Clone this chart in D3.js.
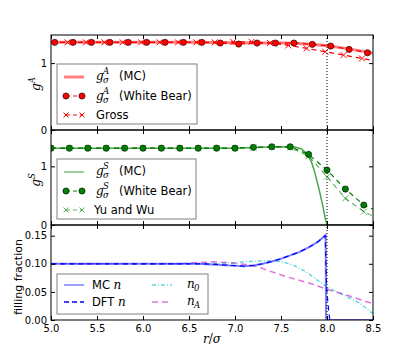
<!DOCTYPE html>
<html><head><meta charset="utf-8">
<script src="https://cdn.jsdelivr.net/npm/d3@7"></script>
<style>
body{margin:0;background:#fff}
text{font-family:"DejaVu Sans",sans-serif}
.m{font-family:"DejaVu Serif",serif;font-style:italic}
</style>
</head><body><div id="chart"></div>
<script>
// top panel: g^A
var aMcX = [5.0, 6.5, 7.0, 7.3, 7.6, 7.8, 8.0, 8.2, 8.4, 8.5];
var aMcY = [1.31, 1.31, 1.305, 1.30, 1.30, 1.285, 1.26, 1.22, 1.175, 1.145];
var aWbX = [5.04, 5.24, 5.44, 5.64, 5.84, 6.04, 6.24, 6.44, 6.64, 6.84, 7.04, 7.24, 7.44, 7.64, 7.84, 8.04, 8.24, 8.44];
var aWbY = [1.31, 1.31, 1.31, 1.31, 1.31, 1.31, 1.31, 1.31, 1.31, 1.30, 1.285, 1.30, 1.30, 1.30, 1.28, 1.255, 1.205, 1.155];
var aGrX = [5.18, 5.38, 5.58, 5.78, 5.98, 6.18, 6.38, 6.58, 6.78, 6.98, 7.18, 7.38, 7.58, 7.78, 7.98, 8.18, 8.38];
var aGrY = [1.31, 1.31, 1.31, 1.31, 1.31, 1.31, 1.31, 1.31, 1.31, 1.318, 1.318, 1.30, 1.265, 1.22, 1.17, 1.12, 1.07];

// middle panel: g^S
var sMcX = [5.0, 7.0, 7.3, 7.5, 7.65, 7.72, 7.78, 7.83, 7.87, 7.91, 7.95, 7.98, 8.0, 8.5];
var sMcY = [1.31, 1.31, 1.325, 1.335, 1.33, 1.30, 1.22, 1.08, 0.88, 0.63, 0.36, 0.12, 0.0, 0.0];
var sWbX = [5.0, 5.2, 5.4, 5.6, 5.8, 6.0, 6.2, 6.4, 6.6, 6.8, 7.0, 7.2, 7.4, 7.6, 7.8, 8.0, 8.2, 8.4];
var sWbY = [1.31, 1.31, 1.31, 1.31, 1.31, 1.31, 1.31, 1.31, 1.31, 1.31, 1.31, 1.324, 1.334, 1.334, 1.204, 0.937, 0.613, 0.341];
var sYwY = [1.31, 1.31, 1.31, 1.31, 1.31, 1.31, 1.31, 1.31, 1.31, 1.31, 1.31, 1.32, 1.33, 1.32, 1.175, 0.823, 0.455, 0.227];

// bottom panel: filling fraction
var nMcX = [5.0, 6.6, 6.8, 6.95, 7.1, 7.2, 7.3, 7.4, 7.5, 7.6, 7.7, 7.8, 7.9, 7.985, 7.99, 8.5];
var nMcY = [0.1, 0.1, 0.0985, 0.097, 0.0955, 0.097, 0.1, 0.104, 0.109, 0.115, 0.121, 0.129, 0.139, 0.151, 0.0, 0.0];
var nDftX = [5.0, 6.6, 6.8, 6.95, 7.1, 7.2, 7.3, 7.4, 7.5, 7.6, 7.7, 7.8, 7.9, 7.98, 7.995, 8.01, 8.03];
var nDftY = [0.1, 0.1, 0.099, 0.097, 0.096, 0.097, 0.1, 0.104, 0.109, 0.115, 0.121, 0.129, 0.139, 0.15, 0.06, 0.03, 0.0];
var n0X = [5.0, 6.8, 7.0, 7.13, 7.34, 7.5, 7.63, 7.77, 7.92, 8.03, 8.18, 8.36, 8.5];
var n0Y = [0.1, 0.1, 0.102, 0.104, 0.1055, 0.104, 0.098, 0.086, 0.068, 0.0564, 0.0445, 0.0297, 0.011];
var nAX = [5.0, 6.4, 6.6, 6.76, 6.95, 7.1, 7.24, 7.34, 7.56, 7.82, 8.03, 8.21, 8.46, 8.5];
var nAY = [0.1, 0.1, 0.102, 0.1035, 0.102, 0.099, 0.095, 0.089, 0.077, 0.065, 0.053, 0.0445, 0.031, 0.030];

var xTicks = [5.0, 5.5, 6.0, 6.5, 7.0, 7.5, 8.0, 8.5];

var w = 415, h = 356;
var left = 51, right = 373, panelH = 95;
var tops = [35, 130, 225];

var svg = d3.select("#chart").append("svg").attr("width", w).attr("height", h);

var x = d3.scaleLinear().domain([5, 8.5]).range([left, right]);
var yA = d3.scaleLinear().domain([0, 1.42]).range([tops[0] + panelH, tops[0]]);
var yS = d3.scaleLinear().domain([0, 1.62]).range([tops[1] + panelH, tops[1]]);
var yN = d3.scaleLinear().domain([0, 0.169]).range([tops[2] + panelH, tops[2]]);

var defs = svg.append("defs");
tops.forEach(function(t, i) {
  defs.append("clipPath").attr("id", "clip" + i)
    .append("rect").attr("x", left).attr("y", t).attr("width", right - left).attr("height", panelH);
});

function pts(xs, ys) { return xs.map(function(v, i) { return [v, ys[i]]; }); }

function line(g, data, y, color, width, dash, op) {
  g.append("path").datum(data)
    .attr("d", d3.line().x(function(d) { return x(d[0]); }).y(function(d) { return y(d[1]); }))
    .attr("fill", "none").attr("stroke", color).attr("stroke-width", width)
    .attr("stroke-dasharray", dash || null).attr("stroke-opacity", op || 1);
}
function dots(g, data, y, color) {
  g.selectAll(null).data(data).enter().append("circle")
    .attr("cx", function(d) { return x(d[0]); }).attr("cy", function(d) { return y(d[1]); })
    .attr("r", 3.1).attr("fill", color).attr("stroke", "#000").attr("stroke-width", 0.6);
}
function crosses(g, data, y, color, op) {
  g.selectAll(null).data(data).enter().append("path")
    .attr("d", "M-3,-3L3,3M-3,3L3,-3")
    .attr("transform", function(d) { return "translate(" + x(d[0]) + "," + y(d[1]) + ")"; })
    .attr("stroke", color).attr("stroke-width", 1).attr("stroke-opacity", op || 1);
}

var dash = "5,4";

// panel 1
var g1 = svg.append("g").attr("clip-path", "url(#clip0)");
line(g1, pts(aMcX, aMcY), yA, "red", 3, null, 0.5);
line(g1, pts([5.0].concat(aWbX, [8.5]), [1.31].concat(aWbY, [1.14])), yA, "red", 1.2, dash);
dots(g1, pts(aWbX, aWbY), yA, "red");
line(g1, pts([5.0].concat(aGrX, [8.5]), [1.31].concat(aGrY, [1.04])), yA, "red", 1.2, dash);
crosses(g1, pts(aGrX, aGrY), yA, "red");

// panel 2
var g2 = svg.append("g").attr("clip-path", "url(#clip1)");
line(g2, pts(sMcX, sMcY), yS, "green", 1.5, null, 0.7);
line(g2, pts(sWbX.concat([8.5]), sWbY.concat([0.27])), yS, "green", 1.2, dash);
dots(g2, pts(sWbX, sWbY), yS, "green");
line(g2, pts(sWbX.concat([8.5]), sYwY.concat([0.153])), yS, "green", 1.2, dash, 0.6);
crosses(g2, pts(sWbX, sYwY), yS, "green", 0.6);

// panel 3
var g3 = svg.append("g").attr("clip-path", "url(#clip2)");
line(g3, pts(n0X, n0Y), yN, "#00bfbf", 1.5, "4,2,1,2", 0.6);
line(g3, pts(nAX, nAY), yN, "#bf00bf", 1.5, "6,4", 0.55);
line(g3, pts(nMcX, nMcY), yN, "blue", 2, null, 0.5);
line(g3, pts(nDftX, nDftY), yN, "blue", 1.2, dash);

// dotted line at r = 8
svg.append("line").attr("x1", x(8)).attr("x2", x(8)).attr("y1", tops[0]).attr("y2", tops[2] + panelH)
  .attr("stroke", "#000").attr("stroke-width", 1).attr("stroke-dasharray", "1,2");

// axes
var yScales = [yA, yS, yN];
var yTicks = [[0, 1], [0, 1], [0, 0.05, 0.10, 0.15]];
var yFmt = [d3.format("d"), d3.format("d"), d3.format(".2f")];
tops.forEach(function(t, i) {
  var b = t + panelH, y = yScales[i];
  var ax = svg.append("g").attr("class", "ax");
  ax.append("g").attr("transform", "translate(0," + b + ")")
    .call(d3.axisBottom(x).tickValues(xTicks).tickSize(-4).tickPadding(5)
      .tickFormat(i === 2 ? d3.format(".1f") : ""));
  ax.append("g").attr("transform", "translate(0," + t + ")")
    .call(d3.axisTop(x).tickValues(xTicks).tickSize(-4).tickFormat(""));
  ax.append("g").attr("transform", "translate(" + left + ",0)")
    .call(d3.axisLeft(y).tickValues(yTicks[i]).tickSize(-4).tickPadding(4).tickFormat(yFmt[i]));
  ax.append("g").attr("transform", "translate(" + right + ",0)")
    .call(d3.axisRight(y).tickValues(yTicks[i]).tickSize(-4).tickFormat(""));
  ax.selectAll(".domain").remove();
  ax.selectAll(".tick line").attr("stroke", "#000");
  ax.selectAll(".tick text").attr("font-size", 10).attr("fill", "#000")
    .attr("font-family", "DejaVu Sans");
  svg.append("rect").attr("x", left).attr("y", t).attr("width", right - left).attr("height", panelH)
    .attr("fill", "none").attr("stroke", "#000").attr("stroke-width", 1);
});

// axis labels
function gLabel(cx, cy, sup) {
  var t = svg.append("text").attr("transform", "translate(" + cx + "," + cy + ") rotate(-90)")
    .attr("text-anchor", "middle").attr("class", "m").attr("font-size", 12);
  t.append("tspan").text("g");
  t.append("tspan").attr("dy", -5).attr("font-size", 8.5).text(sup);
}
gLabel(40, 84, "A");
gLabel(40, 180, "S");
svg.append("text").attr("transform", "translate(22,277) rotate(-90)")
  .attr("text-anchor", "middle").attr("font-size", 11).text("filling fraction");
var xl = svg.append("text").attr("x", 212).attr("y", 343).attr("text-anchor", "middle")
  .attr("class", "m").attr("font-size", 12);
xl.append("tspan").text("r");
xl.append("tspan").attr("font-style", "normal").text("/");
xl.append("tspan").text("σ");

// legends
function box(x0, y0, bw, bh) {
  svg.append("rect").attr("x", x0).attr("y", y0).attr("width", bw).attr("height", bh)
    .attr("fill", "#fff").attr("stroke", "#808080").attr("stroke-width", 1);
}
function hLine(x0, x1, y, color, width, dsh, op) {
  svg.append("line").attr("x1", x0).attr("x2", x1).attr("y1", y).attr("y2", y)
    .attr("stroke", color).attr("stroke-width", width).attr("stroke-dasharray", dsh || null)
    .attr("stroke-opacity", op || 1);
}
function gSigma(x0, y, sup, rest) {
  svg.append("text").attr("x", x0).attr("y", y + 4).attr("class", "m").attr("font-size", 12).text("g");
  svg.append("text").attr("x", x0 + 7).attr("y", y - 2).attr("class", "m").attr("font-size", 8.5).text(sup);
  svg.append("text").attr("x", x0 + 7).attr("y", y + 7).attr("class", "m").attr("font-size", 8.5).text("σ");
  svg.append("text").attr("x", x0 + 23).attr("y", y + 4).attr("font-size", 11.5).text(rest);
}
function plain(x0, y, s) {
  svg.append("text").attr("x", x0).attr("y", y + 4).attr("font-size", 11.5).text(s);
}
var hx0 = 66, hx1 = 82;

box(57, 64, 140, 60);
hLine(hx0 - 2, hx1 + 2, 77, "red", 3, null, 0.5);
gSigma(96, 76, "A", "(MC)");
hLine(hx0, hx1, 96, "red", 1.2, "4,3");
[hx0, hx1].forEach(function(v) {
  svg.append("circle").attr("cx", v).attr("cy", 96).attr("r", 3.1).attr("fill", "red")
    .attr("stroke", "#000").attr("stroke-width", 0.6);
});
gSigma(96, 96, "A", "(White Bear)");
hLine(hx0, hx1, 115, "red", 1.2, "4,3");
[hx0, hx1].forEach(function(v) {
  svg.append("path").attr("d", "M-2.5,-2.5L2.5,2.5M-2.5,2.5L2.5,-2.5").attr("transform", "translate(" + v + ",115)")
    .attr("stroke", "red");
});
plain(96, 115, "Gross");

box(57, 159, 139, 60);
hLine(hx0 - 2, hx1 + 2, 172, "green", 1.5, null, 0.5);
gSigma(96, 171, "S", "(MC)");
hLine(hx0, hx1, 191, "green", 1.2, "4,3");
[hx0, hx1].forEach(function(v) {
  svg.append("circle").attr("cx", v).attr("cy", 191).attr("r", 3.1).attr("fill", "green")
    .attr("stroke", "#000").attr("stroke-width", 0.6);
});
gSigma(96, 191, "S", "(White Bear)");
hLine(hx0, hx1, 210, "green", 1.2, "4,3", 0.6);
[hx0, hx1].forEach(function(v) {
  svg.append("path").attr("d", "M-2.5,-2.5L2.5,2.5M-2.5,2.5L2.5,-2.5").attr("transform", "translate(" + v + ",210)")
    .attr("stroke", "green").attr("stroke-opacity", 0.6);
});
plain(94, 210, "Yu and Wu");

box(57, 274, 151, 40);
hLine(hx0 - 2, hx1 + 2, 285, "blue", 1.5, null, 0.5);
var t1 = svg.append("text").attr("x", 92).attr("y", 289).attr("font-size", 11.5);
t1.append("tspan").text("MC ");
t1.append("tspan").attr("class", "m").attr("font-size", 12).text("n");
hLine(hx0 - 2, hx1 + 2, 302, "blue", 1.5, "5,3");
var t2 = svg.append("text").attr("x", 92).attr("y", 306).attr("font-size", 11.5);
t2.append("tspan").text("DFT ");
t2.append("tspan").attr("class", "m").attr("font-size", 12).text("n");
hLine(152, 172, 285, "#00bfbf", 1.5, "4,2,1,2", 0.6);
svg.append("text").attr("x", 187).attr("y", 288).attr("class", "m").attr("font-size", 12).text("n");
svg.append("text").attr("x", 194).attr("y", 291).attr("class", "m").attr("font-style", "normal").attr("font-size", 8.5).text("0");
hLine(152, 172, 302, "#bf00bf", 1.5, "6,4", 0.55);
svg.append("text").attr("x", 187).attr("y", 305).attr("class", "m").attr("font-size", 12).text("n");
svg.append("text").attr("x", 194).attr("y", 308).attr("class", "m").attr("font-size", 8.5).text("A");
</script></body></html>
